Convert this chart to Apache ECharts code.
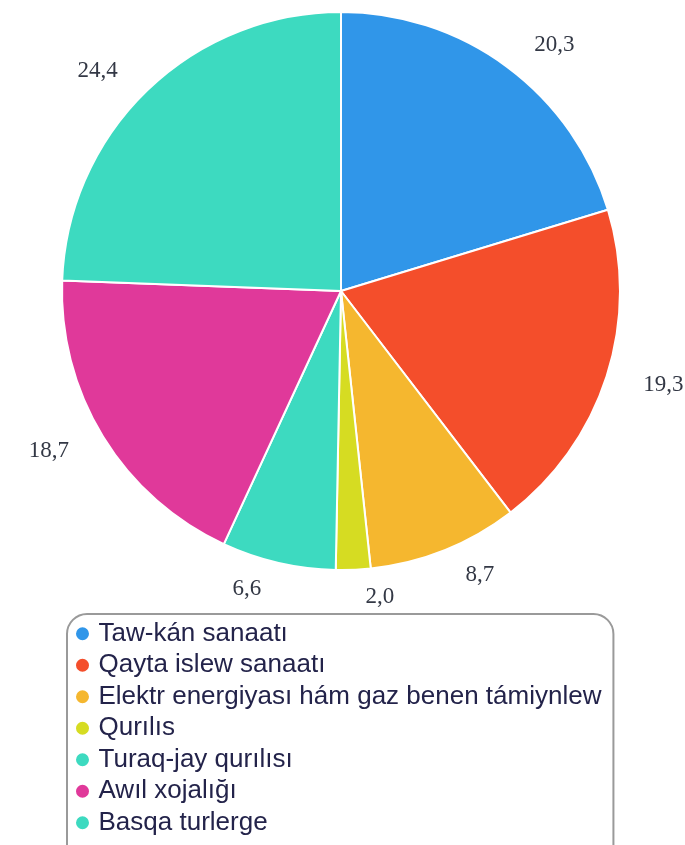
<!DOCTYPE html>
<html>
<head>
<meta charset="utf-8">
<style>
  html, body { margin: 0; padding: 0; background: #ffffff; }
  #chart { width: 685px; height: 845px; }
</style>
<script src="https://cdn.jsdelivr.net/npm/echarts@6/dist/echarts.min.js"></script>
</head>
<body>
<div id="chart"></div>
<script>
const categories = [
  'Taw-kán sanaatı',
  'Qayta islew sanaatı',
  'Elektr energiyası hám gaz benen támiynlew',
  'Qurılıs',
  'Turaq-jay qurılısı',
  'Awıl xojalığı',
  'Basqa turlerge'
];
const values = [20.3, 19.3, 8.7, 2.0, 6.6, 18.7, 24.4];
const colors = ['#3096E9', '#F44E2B', '#F5B72F', '#D6DC22', '#3DDAC0', '#E0399A', '#3DDAC0'];

const chart = echarts.init(document.getElementById('chart'), null, { renderer: 'canvas' });
chart.setOption({
  animation: false,
  color: colors,
  legend: {
    orient: 'vertical',
    left: 67,
    top: 614,
    height: 300,
    padding: [4, 12, 30, 7],
    itemGap: 0,
    itemWidth: 22,
    itemHeight: 15,
    icon: 'circle',
    borderColor: '#9a9a9a',
    borderWidth: 2,
    borderRadius: 20,
    textStyle: {
      fontFamily: 'Liberation Sans, Arial, sans-serif',
      fontSize: 26,
      lineHeight: 31.5,
      color: '#23234a'
    },
    data: categories
  },
  series: [{
    type: 'pie',
    center: [341, 291],
    radius: [0, 279],
    startAngle: 90,
    clockwise: true,
    avoidLabelOverlap: false,
    itemStyle: { borderColor: '#ffffff', borderWidth: 2 },
    label: {
      show: true,
      position: 'outside',
      alignTo: 'none',
      fontFamily: 'Liberation Serif, Times New Roman, serif',
      fontSize: 23,
      color: '#333845',
      formatter: p => p.value.toFixed(1).replace('.', ',')
    },
    labelLine: { show: false, length: 27, length2: 6 },
    emphasis: { disabled: true },
    data: categories.map((c, i) => ({ name: c, value: values[i] }))
  }]
});
</script>
</body>
</html>
